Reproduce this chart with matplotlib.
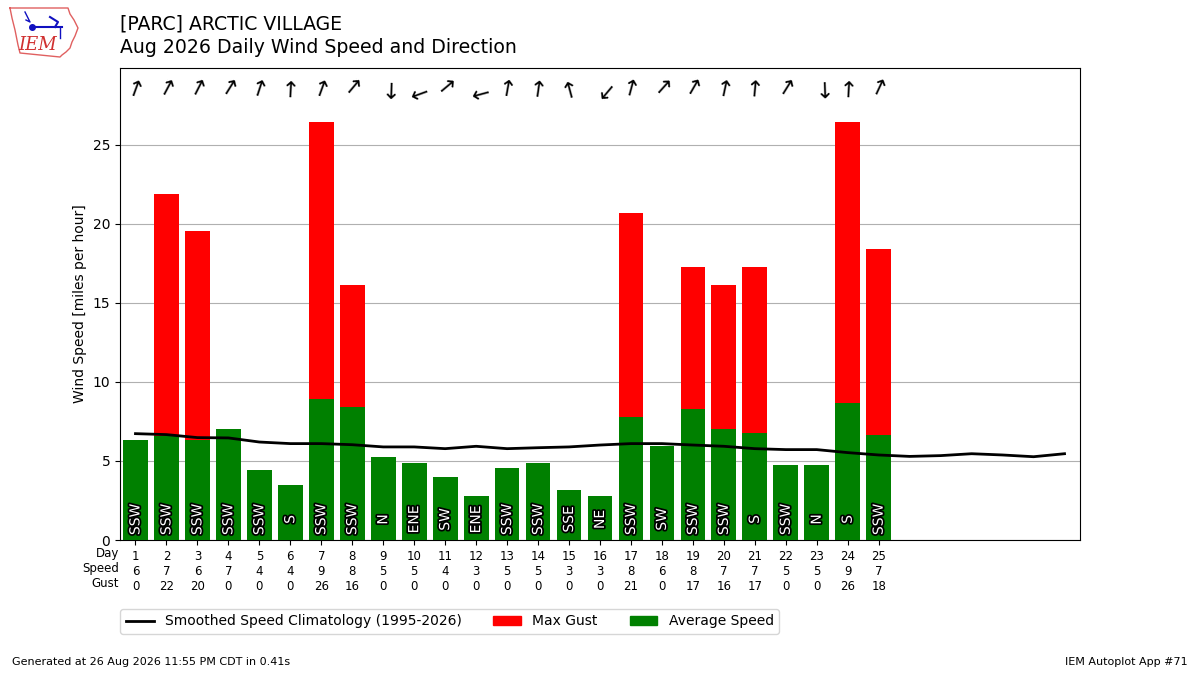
import numpy as np
from matplotlib import pyplot as plt
import matplotlib.patheffects as PathEffects
import matplotlib.transforms as mtransforms
from matplotlib.lines import Line2D
from matplotlib.patches import Patch

days = list(range(1, 26))
avg_speed = [6.3, 6.6, 6.3, 7.0, 4.4, 3.5, 8.9, 8.4, 5.25, 4.9, 4.0, 2.8, 4.55,
             4.87, 3.16, 2.8, 7.8, 5.95, 8.3, 7.0, 6.8, 4.75, 4.75, 8.67, 6.65]
max_gust = [0, 21.9, 19.56, 0, 0, 0, 26.47, 16.11, 0, 0, 0, 0, 0,
            0, 0, 0, 20.71, 0, 17.26, 16.11, 17.26, 0, 0, 26.47, 18.41]
avg_drct = [200, 208, 207, 212, 198, 183, 200, 220, 2, 70, 230, 75, 190,
            188, 165, 40, 195, 222, 210, 192, 185, 212, 358, 183, 205]
drct_text = ["SSW", "SSW", "SSW", "SSW", "SSW", "S", "SSW", "SSW", "N", "ENE",
             "SW", "ENE", "SSW", "SSW", "SSE", "NE", "SSW", "SW", "SSW", "SSW",
             "S", "SSW", "N", "S", "SSW"]
clim_days = list(range(1, 32))
clim_speed = [6.73, 6.67, 6.48, 6.46, 6.2, 6.1, 6.1, 6.03, 5.89, 5.89, 5.78,
              5.93, 5.78, 5.84, 5.89, 6.01, 6.1, 6.1, 6.01, 5.93, 5.78, 5.72,
              5.72, 5.53, 5.38, 5.29, 5.34, 5.46, 5.38, 5.27, 5.46]

fig = plt.figure(figsize=(12, 6.75), dpi=100)
ax = fig.add_axes([0.1, 0.2, 0.8, 0.7])

ax.bar(days, max_gust, width=0.8, color='r', zorder=2)
ax.bar(days, avg_speed, width=0.8, color='g', zorder=3)
ax.plot(clim_days, clim_speed, color='k', lw=2, zorder=4)

for d, txt in zip(days, drct_text):
    ax.text(d, 1.3, txt, rotation=90, ha='center', va='center', color='white',
            fontsize=10, zorder=5,
            path_effects=[PathEffects.withStroke(linewidth=2.5, foreground='k')])

# arrow glyph sits above the centre of its text box, shift it back a bit
for d, drct in zip(days, avg_drct):
    b = np.radians(drct + 180)
    c = 1.7 / 72.0
    shift = mtransforms.ScaledTranslation(-c * np.sin(b), -c * np.cos(b),
                                          fig.dpi_scale_trans)
    ax.text(d, 28.55, "\u2191", rotation=-(drct + 180) % 360, ha='center',
            va='center', fontsize=16, transform=ax.transData + shift)

ax.set_xlim(0.5, 31.5)
ax.set_ylim(0, 29.9)
ax.set_yticks([0, 5, 10, 15, 20, 25])
ax.yaxis.grid(True, color='#b0b0b0', zorder=0)
ax.set_axisbelow(True)
ax.set_ylabel("Wind Speed [miles per hour]")
ax.set_xticks(days)
ax.set_xticklabels(["%d\n%.0f\n%.0f" % (d, s, g)
                    for d, s, g in zip(days, avg_speed, max_gust)], fontsize=8.5)
ax.tick_params(axis='x', pad=3.5)
ax.text(-0.001, -0.0155, "Day\nSpeed\nGust", transform=ax.transAxes,
        ha='right', va='top', fontsize=8.5)

handles = [Line2D([], [], color='k', lw=2),
           Patch(color='r'), Patch(color='g')]
ax.legend(handles, ["Smoothed Speed Climatology (1995-2026)", "Max Gust",
                    "Average Speed"], ncol=3, loc='upper left',
          bbox_to_anchor=(-0.007, -0.131), fontsize=10, columnspacing=2.3)

fig.text(0.1, 0.964, "[PARC] ARCTIC VILLAGE", fontsize=13.6, va='center')
fig.text(0.1, 0.929, "Aug 2026 Daily Wind Speed and Direction", fontsize=13.6,
         va='center')

# rough logo
ox = [10, 68, 70, 74, 78, 75, 72, 70, 66, 62, 60, 20, 18, 15, 12, 10]
oy = [8, 8, 14, 20, 28, 36, 42, 48, 52, 55, 57, 53, 45, 30, 18, 8]
fig.add_artist(Line2D([x / 1200 for x in ox], [1 - y / 675 for y in oy],
                      color='#e06060', lw=1, transform=fig.transFigure))
fig.add_artist(Line2D([32 / 1200, 62 / 1200], [1 - 27 / 675, 1 - 27 / 675],
                      color='#1010c0', lw=1.5, transform=fig.transFigure))
fig.add_artist(Line2D([32 / 1200], [1 - 27 / 675], marker='o', ms=4,
                      color='#1010c0', transform=fig.transFigure))
fig.add_artist(Line2D([25 / 1200, 30 / 1200, 26 / 1200],
                      [1 - 12 / 675, 1 - 22 / 675, 1 - 20 / 675],
                      color='#1010c0', lw=1, transform=fig.transFigure))
fig.add_artist(Line2D([50 / 1200, 58 / 1200, 55 / 1200],
                      [1 - 17 / 675, 1 - 22 / 675, 1 - 27 / 675],
                      color='#1010c0', lw=1.5, transform=fig.transFigure))
fig.add_artist(Line2D([60 / 1200, 60 / 1200], [1 - 27 / 675, 1 - 38 / 675],
                      color='#1010c0', lw=1, transform=fig.transFigure))
fig.text(0.0315, 1 - 45 / 675, "IEM", fontsize=13, color='#d03030',
         family='serif', style='italic', ha='center', va='center')

fig.text(0.01, 0.015, "Generated at 26 Aug 2026 11:55 PM CDT in 0.41s",
         fontsize=8)
fig.text(0.99, 0.015, "IEM Autoplot App #71", fontsize=8, ha='right')

fig.savefig("out.png")
